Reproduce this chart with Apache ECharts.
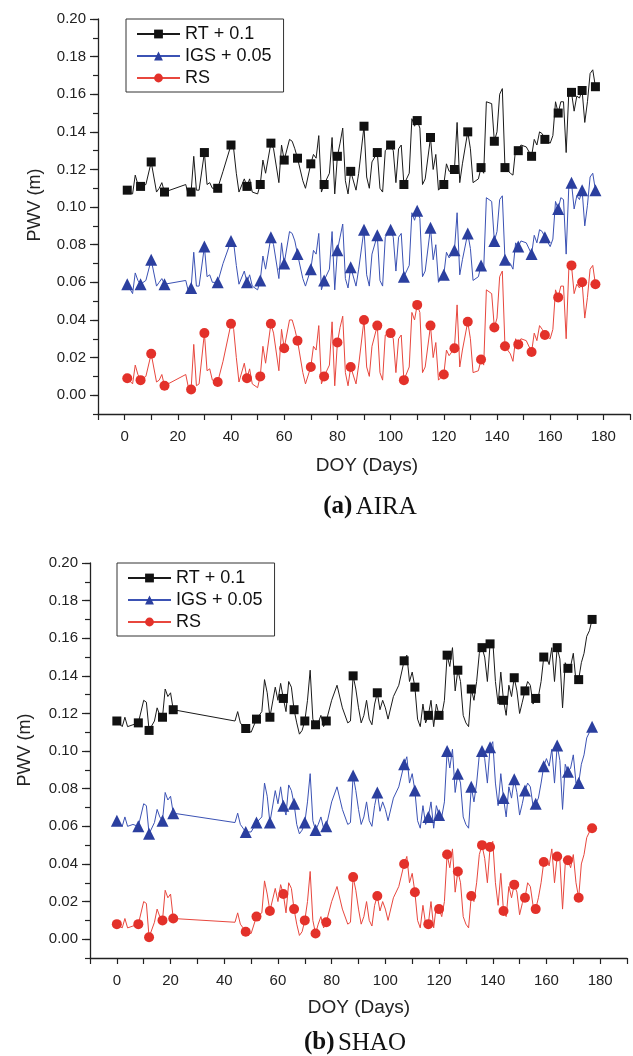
<!DOCTYPE html>
<html><head><meta charset="utf-8">
<script src="https://cdn.jsdelivr.net/npm/echarts@6/dist/echarts.min.js"></script>
<style>html,body{margin:0;padding:0;background:#fff}#c{width:633px;height:1056px}</style>
</head><body><div id="c"></div>
<script>
// ---------- (a) AIRA ----------
const topDays = [1,3,4,5,6,8,10,12,13,14,15,23,24,25,26,27,28,30,31,32,33,35,37,40,41,42,43,45,46,47,48,50,51,52,53,55,56,58,59,60,62,63,64,65,67,68,70,71,72,73,74,75,77,78,79,80,81,82,83,84,85,87,88,90,91,92,93,95,96,97,98,100,101,102,103,104,105,107,108,109,110,111,112,113,115,116,117,118,120,121,122,124,125,126,127,129,130,131,133,134,135,136,138,139,140,141,142,143,145,146,147,148,149,151,153,154,155,156,157,158,160,161,162,163,164,165,166,167,168,169,170,171,172,173,174,175,176,177];
const rsTop = [.009,.006,.016,.011,.008,.010,.022,.007,.008,.011,.005,.011,.004,.003,.027,.005,.006,.033,.013,.014,.008,.007,.018,.038,.035,.020,.007,.017,.009,.014,.006,.004,.010,.026,.017,.038,.033,.013,.035,.025,.040,.040,.035,.029,.012,.006,.015,.026,.024,.037,.006,.010,.016,.039,.005,.028,.036,.042,.012,.005,.015,.006,.016,.040,.015,.010,.026,.037,.012,.008,.032,.033,.030,.012,.030,.032,.008,.015,.044,.040,.048,.044,.012,.015,.037,.020,.028,.008,.011,.024,.021,.025,.048,.015,.024,.039,.030,.012,.013,.019,.016,.056,.054,.036,.041,.063,.066,.026,.022,.018,.030,.027,.030,.029,.023,.033,.029,.037,.035,.032,.030,.035,.056,.052,.058,.058,.030,.067,.069,.054,.059,.057,.060,.041,.052,.067,.069,.059];
const igsTop = [.009,.004,.015,.011,.009,.011,.022,.008,.010,.012,.009,.011,.005,.007,.026,.008,.008,.029,.013,.014,.010,.010,.020,.032,.031,.019,.009,.016,.010,.014,.008,.006,.011,.024,.017,.034,.030,.012,.031,.020,.037,.036,.032,.025,.012,.008,.017,.027,.025,.036,.006,.011,.017,.037,.006,.027,.034,.041,.012,.007,.018,.008,.017,.038,.014,.008,.025,.035,.011,.008,.034,.038,.034,.016,.034,.036,.013,.019,.047,.043,.048,.044,.013,.016,.039,.022,.030,.010,.014,.026,.023,.027,.047,.014,.022,.036,.028,.011,.013,.019,.017,.055,.053,.032,.037,.054,.056,.022,.020,.017,.031,.029,.032,.031,.025,.035,.031,.038,.037,.034,.029,.033,.053,.049,.055,.054,.025,.061,.063,.049,.056,.054,.059,.040,.051,.066,.068,.059];
const rtTop = [.009,.007,.017,.012,.011,.012,.024,.008,.010,.013,.008,.012,.006,.008,.027,.009,.009,.029,.012,.013,.010,.010,.019,.033,.031,.018,.008,.015,.011,.015,.008,.007,.012,.025,.018,.034,.031,.013,.033,.025,.036,.035,.031,.026,.014,.010,.023,.028,.026,.038,.008,.012,.018,.037,.007,.027,.034,.042,.014,.007,.019,.009,.018,.043,.016,.010,.024,.029,.010,.008,.030,.033,.030,.013,.031,.033,.012,.018,.047,.043,.046,.042,.012,.015,.037,.020,.028,.009,.012,.023,.019,.020,.045,.013,.023,.040,.031,.013,.015,.021,.018,.056,.055,.035,.040,.060,.063,.021,.018,.017,.031,.030,.033,.032,.027,.036,.033,.040,.039,.036,.034,.038,.056,.050,.056,.056,.029,.061,.061,.051,.059,.058,.062,.045,.056,.071,.073,.064];
const topMarkerDays = [1,6,10,15,25,30,35,40,46,51,55,60,65,70,75,80,85,90,95,100,105,110,115,120,124,129,134,139,143,148,153,158,163,168,172,177];

// ---------- (b) SHAO ----------
const botDays = [0,2,3,4,6,8,10,11,12,14,15,16,17,18,19,20,21,44,45,46,47,48,50,52,54,55,56,57,59,60,61,62,63,64,65,66,67,68,69,70,71,72,73,74,75,76,77,78,80,82,84,86,87,88,89,90,91,92,93,94,95,96,97,98,99,100,101,103,105,107,108,109,110,111,112,113,114,115,116,117,118,119,120,121,122,123,124,125,126,127,128,129,130,131,132,133,134,135,136,137,138,139,140,141,142,143,144,145,146,147,148,149,150,151,152,153,154,155,156,157,158,159,160,161,162,163,164,165,166,167,168,169,170,171,172,173,174,175,176,177];
const rsBot = [.008,.006,.011,.006,.007,.008,.020,.019,.001,.009,.016,.012,.010,.026,.022,.024,.011,.009,.014,.008,.006,.004,.003,.012,.014,.031,.024,.015,.027,.020,.029,.024,.014,.030,.027,.016,.008,.002,.004,.010,.020,.036,.010,.003,.008,.012,.006,.009,.020,.028,.016,.008,.009,.033,.026,.016,.008,.012,.020,.010,.007,.018,.023,.015,.020,.016,.010,.022,.028,.040,.044,.030,.035,.025,.010,.006,.018,.008,.008,.020,.006,.018,.016,.012,.020,.045,.038,.048,.025,.036,.030,.012,.008,.006,.023,.020,.030,.045,.050,.043,.030,.049,.052,.030,.018,.035,.015,.012,.028,.022,.029,.025,.013,.019,.022,.030,.028,.018,.016,.022,.030,.041,.043,.039,.048,.030,.044,.042,.016,.040,.042,.038,.045,.030,.022,.040,.045,.054,.057,.059];
const igsBot = [.013,.010,.015,.010,.011,.010,.022,.021,.006,.012,.019,.015,.013,.028,.024,.026,.017,.012,.017,.011,.009,.007,.007,.012,.015,.033,.026,.012,.029,.022,.031,.021,.016,.032,.029,.022,.011,.006,.008,.012,.023,.038,.013,.008,.011,.015,.009,.010,.023,.031,.019,.011,.012,.037,.029,.019,.011,.015,.023,.013,.010,.021,.028,.018,.023,.019,.013,.025,.031,.043,.047,.033,.038,.029,.013,.009,.021,.011,.015,.023,.009,.021,.016,.015,.023,.050,.041,.051,.028,.038,.033,.015,.011,.009,.031,.023,.033,.048,.050,.046,.033,.052,.055,.033,.021,.038,.025,.015,.031,.025,.035,.028,.016,.022,.029,.033,.031,.021,.022,.025,.033,.042,.046,.042,.051,.033,.053,.045,.019,.043,.039,.041,.048,.033,.033,.043,.048,.057,.060,.063];
const rtBot = [.016,.013,.018,.013,.014,.015,.027,.026,.011,.016,.023,.019,.018,.033,.029,.031,.022,.016,.021,.015,.013,.012,.010,.017,.021,.038,.031,.018,.034,.027,.036,.028,.021,.037,.034,.022,.015,.009,.011,.016,.027,.043,.017,.014,.015,.019,.013,.016,.027,.035,.023,.015,.016,.040,.033,.023,.015,.019,.027,.017,.014,.025,.031,.022,.027,.023,.017,.029,.035,.048,.051,.037,.042,.034,.017,.013,.025,.015,.019,.027,.013,.025,.019,.019,.027,.051,.045,.055,.032,.043,.037,.019,.015,.013,.033,.027,.037,.052,.055,.050,.037,.057,.059,.037,.025,.042,.027,.019,.035,.029,.039,.032,.020,.026,.032,.037,.035,.025,.028,.029,.037,.050,.050,.046,.055,.037,.055,.049,.023,.047,.044,.045,.052,.037,.038,.047,.052,.061,.064,.070];
const botMarkerDays = [0,8,12,17,21,48,52,57,62,66,70,74,78,88,97,107,111,116,120,123,127,132,136,139,144,148,152,156,159,164,168,172,177];

// ---------- labels ----------
const seriesNames = ['RT + 0.1', 'IGS + 0.05', 'RS'];
const seriesOffsets = [0.1, 0.05, 0];
const panelCaptions = [['(a)', 'AIRA'], ['(b)', 'SHAO']];
const xTitle = 'DOY (Days)';
const yTitle = 'PWV (m)';
const yMajorTicks = [0, 0.02, 0.04, 0.06, 0.08, 0.10, 0.12, 0.14, 0.16, 0.18, 0.20];

const SANS = '"Liberation Sans", Arial, Helvetica, sans-serif';
const SERIF = '"Liberation Serif", "Times New Roman", serif';
const styles = [
  {line: '#1a1a1a', mark: '#111111', symbol: 'rect', size: 9},
  {line: '#3b52b4', mark: '#2b3f9f', symbol: 'triangle', size: 12},
  {line: '#e8473e', mark: '#e3312a', symbol: 'circle', size: 10}
];

const panels = [
  {grid: {left: 98, top: 19, width: 538, height: 395}, days: topDays, vals: [rtTop, igsTop, rsTop], marks: topMarkerDays,
   legend: {left: 126, top: 19}, yTitle: [35, 205], xTitle: [367, 466], caption: [370, 507]},
  {grid: {left: 90, top: 563, width: 537, height: 395}, days: botDays, vals: [rtBot, igsBot, rsBot], marks: botMarkerDays,
   legend: {left: 117, top: 563}, yTitle: [25, 750], xTitle: [359, 1008], caption: [355, 1043]}
];

const grids = [], xAxes = [], yAxes = [], series = [], legends = [], graphics = [];
panels.forEach((p, pi) => {
  grids.push(p.grid);
  xAxes.push({
    type: 'value', gridIndex: pi, min: -10, max: 190, interval: 10,
    axisLine: {show: true, onZero: false, lineStyle: {color: '#222', width: 1.3}},
    axisTick: {show: true, inside: false, length: 6, lineStyle: {color: '#222', width: 1.2}},
    axisLabel: {show: true, margin: 15, color: '#222', fontFamily: SANS, fontSize: 15,
      formatter: v => (v >= 0 && v <= 180 && v % 20 === 0) ? String(v) : ''},
    splitLine: {show: false}
  });
  yAxes.push({
    type: 'value', gridIndex: pi, min: -0.01, max: 0.2, interval: 0.01,
    axisLine: {show: true, onZero: false, lineStyle: {color: '#222', width: 1.3}},
    axisTick: {show: true, inside: false, length: 5, lineStyle: {color: '#222', width: 1.2}},
    axisLabel: {show: true, margin: 12, color: '#222', fontFamily: SANS, fontSize: 15,
      formatter: v => { const n = Math.round(v * 100); return (n >= 0 && n % 2 === 0) ? (n / 100).toFixed(2) : ''; }},
    splitLine: {show: false}
  });
  // overlay axis for the longer major ticks
  yAxes.push({
    type: 'value', gridIndex: pi, min: -0.01, max: 0.2, interval: 0.01, position: 'left',
    axisLine: {show: false, onZero: false}, axisLabel: {show: false}, splitLine: {show: false},
    axisTick: {show: true, inside: false, length: 8, customValues: yMajorTicks, lineStyle: {color: '#222', width: 1.2}}
  });
  const markSet = new Set(p.marks);
  seriesNames.forEach((name, si) => {
    const st = styles[si];
    series.push({
      name, type: 'line', xAxisIndex: pi, yAxisIndex: pi * 2, z: 3 - si + 2,
      symbol: st.symbol, symbolSize: st.size, showSymbol: true, showAllSymbol: true,
      lineStyle: {color: st.line, width: 1}, itemStyle: {color: st.mark},
      emphasis: {disabled: true}, animation: false,
      data: p.days.map((d, i) => ({value: [d, +(p.vals[si][i] + seriesOffsets[si]).toFixed(4)],
        symbol: markSet.has(d) ? st.symbol : 'none'}))
    });
  });
  legends.push({
    data: seriesNames, orient: 'vertical', left: p.legend.left, top: p.legend.top,
    width: 158, itemWidth: 43, itemHeight: 11, itemGap: 4,
    padding: [6, 12, 5, 10], borderColor: '#333', borderWidth: 1, backgroundColor: '#fff',
    textStyle: {fontFamily: SANS, fontSize: 18, color: '#111'}, selectedMode: false
  });
  graphics.push({type: 'text', x: p.yTitle[0], y: p.yTitle[1], rotation: Math.PI / 2,
    style: {text: yTitle, fontFamily: SANS, fontSize: 18, fill: '#222', textAlign: 'center', textVerticalAlign: 'middle'}});
  graphics.push({type: 'text', x: p.xTitle[0], y: p.xTitle[1],
    style: {text: xTitle, fontFamily: SANS, fontSize: 19, fill: '#222', textAlign: 'center', textVerticalAlign: 'middle'}});
  graphics.push({type: 'text', x: p.caption[0], y: p.caption[1],
    style: {text: '{b|' + panelCaptions[pi][0] + '} {n|' + panelCaptions[pi][1] + '}',
      textAlign: 'center', textVerticalAlign: 'middle',
      rich: {b: {fontFamily: SERIF, fontWeight: 'bold', fontSize: 25, fill: '#111'},
             n: {fontFamily: SERIF, fontSize: 25, fill: '#111'}}}});
});

const chart = echarts.init(document.getElementById('c'), null, {renderer: 'canvas'});
chart.setOption({
  animation: false, backgroundColor: '#fff',
  grid: grids, xAxis: xAxes, yAxis: yAxes, series, legend: legends, graphic: graphics
});
</script></body></html>
